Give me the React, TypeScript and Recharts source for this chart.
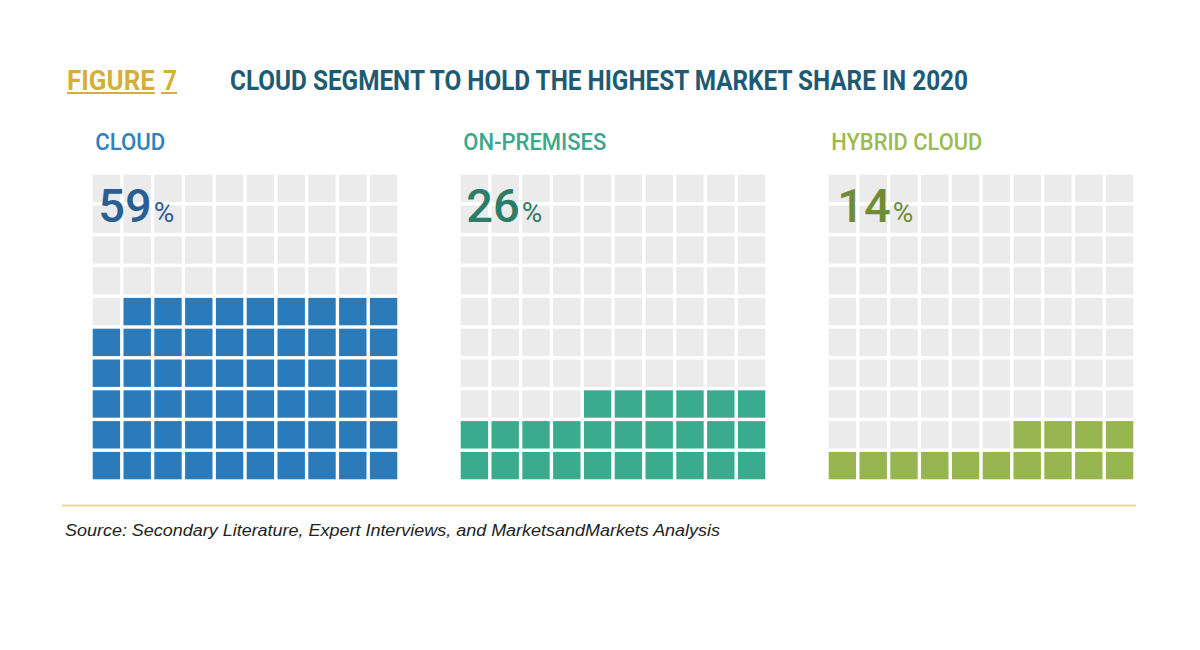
import React from "react";
import { ScatterChart, Scatter, XAxis, YAxis } from "recharts";

// segment names, shares (%) and colours
const segments = ["CLOUD", "ON-PREMISES", "HYBRID CLOUD"];
const shares = [59, 26, 14];
const fillColors = ["#2B7BBA", "#3AAB8E", "#97B650"];
const labelColors = ["#2F7FC1", "#3BA78B", "#9BBB52"];
const valueColors = ["#2A5F93", "#2C7D67", "#6F8C33"];

// label widths measured on the reference, used as textLength
const labelWidths = [70, 143, 151];

const GREY = "#EBEBEB";
const GRID = 10;
const BOX = 308;
const CELL = 27.4;
const PANEL_LEFT = [90.6, 458.6, 826.6];
const PANEL_TOP = 173.3;

// waffle cells: bottom rows fill first, a partial row fills from the right
function buildCells(share: number) {
  const cells: { col: number; row: number; on: boolean }[] = [];
  for (let row = 0; row < GRID; row++) {
    for (let col = 0; col < GRID; col++) {
      cells.push({
        col: col + 0.5,
        row: row + 0.5,
        on: row * GRID + (GRID - 1 - col) < share,
      });
    }
  }
  return cells;
}

function Waffle({ share, color }: { share: number; color: string }) {
  const cells = buildCells(share);
  return (
    <ScatterChart
      width={BOX}
      height={BOX}
      margin={{ top: 0, right: 0, bottom: 0, left: 0 }}
    >
      <XAxis type="number" dataKey="col" domain={[0, GRID]} hide />
      <YAxis type="number" dataKey="row" domain={[0, GRID]} hide />
      <Scatter
        data={cells}
        isAnimationActive={false}
        shape={(p: any) => (
          <rect
            x={p.cx - CELL / 2}
            y={p.cy - CELL / 2}
            width={CELL}
            height={CELL}
            fill={p.payload.on ? color : GREY}
          />
        )}
      />
    </ScatterChart>
  );
}

export default function App() {
  const condensed = "Roboto, 'Liberation Sans', sans-serif";
  return (
    <div
      style={{
        position: "absolute",
        left: 0,
        top: 0,
        width: 1200,
        height: 650,
        background: "#fff",
        overflow: "hidden",
      }}
    >
      {shares.map((s, i) => (
        <div
          key={segments[i]}
          style={{ position: "absolute", left: PANEL_LEFT[i], top: PANEL_TOP }}
        >
          <Waffle share={s} color={fillColors[i]} />
        </div>
      ))}

      <svg
        width={1200}
        height={650}
        style={{ position: "absolute", left: 0, top: 0, pointerEvents: "none" }}
      >
        {/* header */}
        <text
          x={67}
          y={90}
          fontFamily={condensed}
          fontWeight={700}
          fontSize={28}
          fill="#D6AF3B"
          textLength={88}
          lengthAdjust="spacingAndGlyphs"
        >
          FIGURE
        </text>
        <text
          x={163}
          y={90}
          fontFamily={condensed}
          fontWeight={700}
          fontSize={28}
          fill="#D6AF3B"
          textLength={14}
          lengthAdjust="spacingAndGlyphs"
        >
          7
        </text>
        <line x1={67} x2={155} y1={93} y2={93} stroke="#D6AF3B" strokeWidth={2} />
        <line x1={161} x2={177} y1={93} y2={93} stroke="#D6AF3B" strokeWidth={2} />
        <text
          x={230}
          y={90}
          fontFamily={condensed}
          fontWeight={700}
          fontSize={28}
          fill="#1D5A74"
          textLength={738}
          lengthAdjust="spacingAndGlyphs"
        >
          CLOUD SEGMENT TO HOLD THE HIGHEST MARKET SHARE IN 2020
        </text>

        {/* panel labels and shares */}
        {segments.map((name, i) => {
          const gx = PANEL_LEFT[i] + 1.7;
          return (
            <g key={name}>
              <text
                x={gx + 3}
                y={150}
                fontFamily={condensed}
                fontWeight={500}
                fontSize={24}
                fill={labelColors[i]}
                textLength={labelWidths[i]}
                lengthAdjust="spacingAndGlyphs"
              >
                {name}
              </text>
              <text
                x={gx + (i === 2 ? 9 : 6)}
                y={222}
                fontFamily={condensed}
                fontWeight={500}
                fill={valueColors[i]}
              >
                <tspan fontSize={47}>{String(shares[i])}</tspan>
                <tspan fontSize={28} fontWeight={400} dx={2}>
                  %
                </tspan>
              </text>
            </g>
          );
        })}

        {/* footer */}
        <line x1={62} x2={1136} y1={505.5} y2={505.5} stroke="#E9D69E" strokeWidth={2} />
        <text
          x={65}
          y={536}
          fontFamily="'Liberation Sans', Arial, sans-serif"
          fontStyle="italic"
          fontSize={16}
          fill="#222"
          textLength={655}
          lengthAdjust="spacingAndGlyphs"
        >
          Source: Secondary Literature, Expert Interviews, and MarketsandMarkets Analysis
        </text>
      </svg>
    </div>
  );
}
